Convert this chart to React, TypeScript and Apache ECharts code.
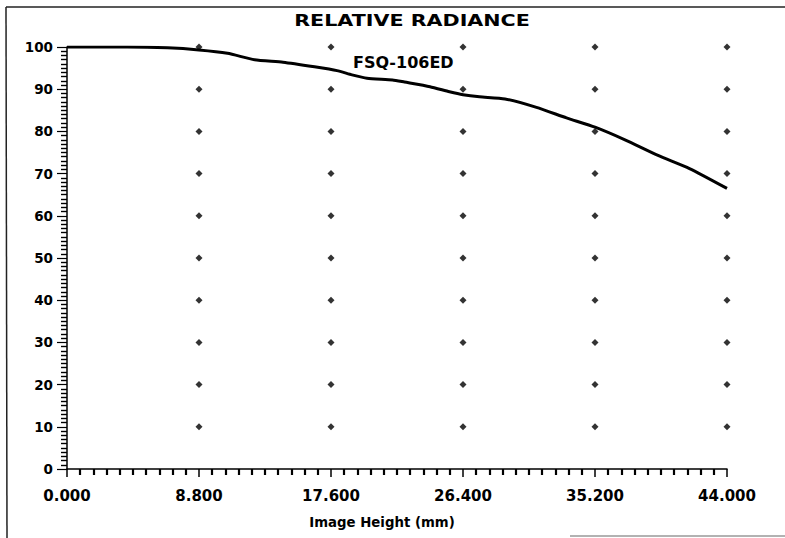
import React, { useEffect, useRef } from "react";
import * as echarts from "echarts";

const titleText = "RELATIVE RADIANCE";
const seriesName = "FSQ-106ED";
const xAxisName = "Image Height (mm)";

const xTicks = [0, 8.8, 17.6, 26.4, 35.2, 44];
const yTicks = [0, 10, 20, 30, 40, 50, 60, 70, 80, 90, 100];

const curveX = [0, 4, 6.7, 8.8, 10.7, 12.5, 14.4, 16.5, 18, 19, 20, 21.7, 22.5, 24.2, 25.5, 26.4, 27.5, 29.2, 31.3, 33.3, 35.2, 37.2, 39.4, 41.5, 44];
const curveY = [100, 100, 99.8, 99.3, 98.5, 97.0, 96.4, 95.3, 94.4, 93.4, 92.6, 92.2, 91.7, 90.6, 89.4, 88.7, 88.2, 87.7, 85.7, 83.2, 81.0, 78.0, 74.3, 71.2, 66.5];

export default function App() {
  const ref = useRef<HTMLDivElement>(null);
  useEffect(() => {
    if (!ref.current) return;
    const chart = echarts.init(ref.current, null, { renderer: "svg" });
    const dots: number[][] = [];
    xTicks.slice(1).forEach((x) => yTicks.slice(1).forEach((y) => dots.push([x, y])));
    const font = "DejaVu Sans";
    chart.setOption({
      animation: false,
      backgroundColor: "#ffffff",
      grid: { left: 67, right: 58, top: 47, bottom: 69 },
      xAxis: {
        type: "value",
        min: 0,
        max: 44,
        interval: 8.8,
        axisLine: { show: true, lineStyle: { color: "#000", width: 1.5 } },
        axisTick: { show: true, length: 8, lineStyle: { color: "#000", width: 1.5 } },
        minorTick: { show: true, splitNumber: 10, length: 6, lineStyle: { color: "#000", width: 2.2 } },
        splitLine: { show: false },
        axisLabel: {
          color: "#000",
          fontFamily: font,
          fontWeight: "bold",
          fontSize: 15,
          margin: 19,
          formatter: (v: number) => v.toFixed(3),
        },
      },
      yAxis: {
        type: "value",
        min: 0,
        max: 100,
        interval: 10,
        axisLine: { show: true, lineStyle: { color: "#000", width: 1.5 } },
        axisTick: { show: true, length: 10, lineStyle: { color: "#000", width: 1.2 } },
        minorTick: { show: true, splitNumber: 10, length: 6, lineStyle: { color: "#000", width: 1.4 } },
        splitLine: { show: false },
        axisLabel: { color: "#000", fontFamily: font, fontWeight: "bold", fontSize: 13.5, margin: 14 },
      },
      series: [
        {
          type: "scatter",
          data: dots,
          symbol: "diamond",
          symbolSize: 7,
          itemStyle: { color: "#000" },
          silent: true,
        },
        {
          type: "line",
          name: seriesName,
          data: curveX.map((x, i) => [x, curveY[i]]),
          showSymbol: false,
          smooth: 0.2,
          lineStyle: { color: "#000", width: 3 },
        },
      ],
      graphic: [
        { type: "line", shape: { x1: 6, y1: 7, x2: 785, y2: 7 }, style: { stroke: "#222", lineWidth: 1.5 } },
        { type: "line", shape: { x1: 6, y1: 7, x2: 7, y2: 538 }, style: { stroke: "#222", lineWidth: 1.5 } },
        { type: "line", shape: { x1: 570, y1: 536, x2: 785, y2: 536 }, style: { stroke: "#999", lineWidth: 1.5 } },
        {
          type: "text",
          x: 412,
          y: 20,
          scaleX: 1.29,
          style: { text: titleText, fontFamily: font, fontWeight: "bold", fontSize: 16, fill: "#000", textAlign: "center", textVerticalAlign: "middle" },
        },
        {
          type: "text",
          x: 353,
          y: 62,
          style: { text: seriesName, fontFamily: font, fontWeight: "bold", fontSize: 16, fill: "#000", textAlign: "left", textVerticalAlign: "middle" },
        },
        {
          type: "text",
          x: 382,
          y: 522,
          style: { text: xAxisName, fontFamily: font, fontWeight: "bold", fontSize: 13.3, fill: "#000", textAlign: "center", textVerticalAlign: "middle" },
        },
      ],
    });
    return () => chart.dispose();
  }, []);
  return <div ref={ref} style={{ width: 785, height: 538, position: "absolute", left: 0, top: 0 }} />;
}
